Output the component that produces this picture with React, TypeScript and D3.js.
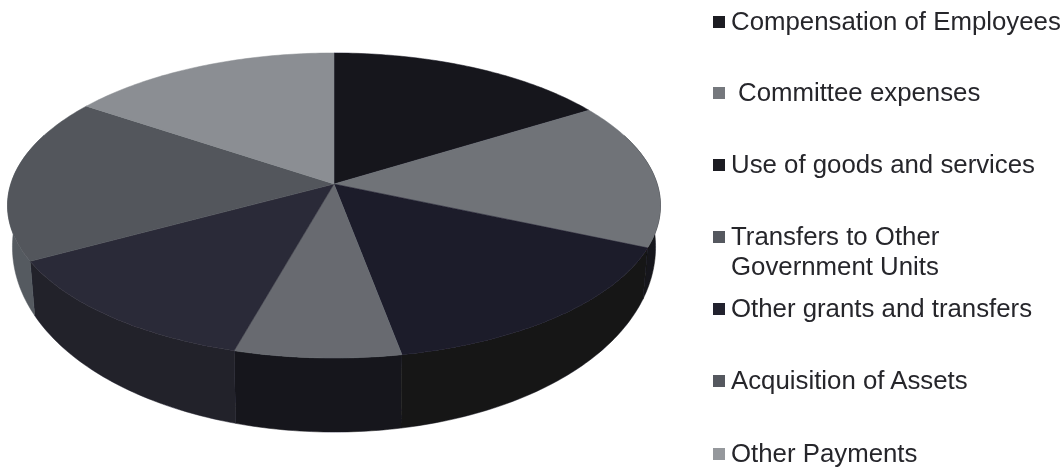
import React, { useEffect, useRef } from 'react'
import * as d3 from 'd3'

const categories = [
    "Compensation of Employees",
    "Committee expenses",
    "Use of goods and services",
    "Transfers to Other Government Units",
    "Other grants and transfers",
    "Acquisition of Assets",
    "Other Payments",
]
const shares = [16.1, 15.5, 15.5, 7.2, 12.7, 17.5, 15.5]
const topColors = ["#17161f", "#6f7378", "#1c1b2b", "#676b70", "#2c2b38", "#52565c", "#8b8e93"]
const wallColors = ["#17161c", "#16161a", "#131316", "#17161c", "#20202a", "#555a60", "#555a60"]
const legendColors = ["#1a1a22", "#75787d", "#1a1a22", "#55585e", "#22222e", "#55585e", "#95989c"]
const legendLines = [
    ["Compensation of Employees"],
    [" Committee expenses"],
    ["Use of goods and services"],
    ["Transfers to Other", "Government Units"],
    ["Other grants and transfers"],
    ["Acquisition of Assets"],
    ["Other Payments"],
]
const legendBaselines = [30, 101, 173, 245, 317, 389, 462]

const width = 1064
const height = 469

// perspective disc: k < 0 brings the front of the pie towards the viewer
const cx = 334
const cy = 184
const fx = 323.2
const fy = 149.5
const k = -0.141

function project(angle: number, bottom = false): [number, number] {
    const u = Math.sin(angle)
    const v = -Math.cos(angle)
    const w = 1 + k * v
    const x = cx + (fx * (bottom ? 0.985 : 1) * u) / w
    const y = cy + (fy * v) / w
    // wall gets taller towards the viewer
    return [x, bottom ? y + 36 + 38 * v : y]
}

export default function App() {
    const svgRef = useRef<SVGSVGElement>(null)

    useEffect(() => {
        if (!svgRef.current) return

        const svg = d3.select(svgRef.current)
        svg.selectAll("*").remove()

        const defs = svg.append("defs")
        defs.append("filter")
            .attr("id", "soft")
            .append("feGaussianBlur")
            .attr("stdDeviation", 0.7)
        defs.append("filter")
            .attr("id", "soft2")
            .append("feGaussianBlur")
            .attr("stdDeviation", 0.35)

        const arcs = d3.pie<number>().sort(null)(shares)
        const line = d3.line()

        const samples = (a0: number, a1: number) => {
            const n = Math.max(2, Math.ceil((a1 - a0) * 60))
            return d3.range(n + 1).map(i => a0 + ((a1 - a0) * i) / n)
        }

        const g = svg.append("g").attr("filter", "url(#soft)")

        // Walls first, the top face covers whatever is left over
        g.append("g")
            .selectAll("path")
            .data(arcs)
            .enter().append("path")
            .attr("fill", (_, i) => wallColors[i])
            .attr("stroke", (_, i) => wallColors[i])
            .attr("stroke-width", 0.5)
            .attr("d", d => {
                const visible = samples(d.startAngle, d.endAngle).filter(a => -Math.cos(a) > -0.35)
                if (visible.length < 2) return ""
                return line([
                    ...visible.map(a => project(a)),
                    ...visible.slice().reverse().map(a => project(a, true)),
                ]) + "Z"
            })

        // Top face
        g.append("g")
            .selectAll("path")
            .data(arcs)
            .enter().append("path")
            .attr("fill", (_, i) => topColors[i])
            .attr("stroke", (_, i) => topColors[i])
            .attr("stroke-width", 0.5)
            .attr("d", d => line([[cx, cy], ...samples(d.startAngle, d.endAngle).map(a => project(a))]) + "Z")

        // Legend
        const legend = svg.append("g").attr("filter", "url(#soft2)")

        const item = legend.selectAll("g")
            .data(categories)
            .enter().append("g")

        item.append("rect")
            .attr("x", 713)
            .attr("y", (_, i) => legendBaselines[i] - 14)
            .attr("width", 12)
            .attr("height", 12)
            .attr("fill", (_, i) => legendColors[i])

        item.each(function (_, i) {
            legendLines[i].forEach((txt, j) => {
                d3.select(this).append("text")
                    .attr("x", txt.startsWith(" ") ? 738 : 731)
                    .attr("y", legendBaselines[i] + j * 30)
                    .attr("font-family", "Liberation Sans")
                    .attr("font-size", 25.8)
                    .attr("fill", "#26262c")
                    .text(txt.trim())
            })
        })
    }, [])

    return (
        <svg
            ref={svgRef}
            width={width}
            height={height}
            viewBox={`0 0 ${width} ${height}`}
            style={{ position: "absolute", left: 0, top: 0, background: "#fff" }}
        />
    )
}
